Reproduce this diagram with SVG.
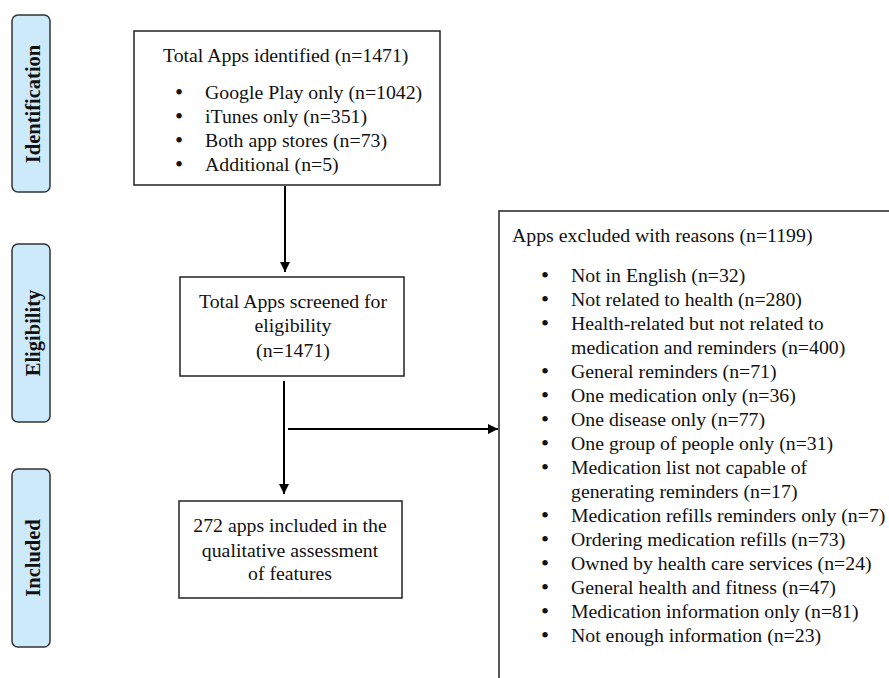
<svg xmlns="http://www.w3.org/2000/svg" width="889" height="678" viewBox="0 0 889 678">
<style>
.t{font-family:"Liberation Serif","Times New Roman",serif;font-size:19.8px;fill:#111}
.b{font-size:23px}
.c{text-anchor:middle}
.side{fill:#cdeafb;stroke:#333;stroke-width:1.5}
.sl{font-family:"Liberation Serif","Times New Roman",serif;font-size:20.5px;font-weight:bold;fill:#111;text-anchor:middle}
.box{fill:#fff;stroke:#222;stroke-width:1.5}
.ln{stroke:#000;stroke-width:2;fill:none}
</style>
<defs>
<marker id="ah" viewBox="0 0 10 10" refX="10" refY="5" markerWidth="10" markerHeight="10" markerUnits="userSpaceOnUse" orient="auto">
<path d="M0,0 L10,5 L0,10 z" fill="#000"/>
</marker>
</defs>
<rect width="889" height="678" fill="#fff"/>
<g id="stage-identification">
<rect class="side" x="12" y="15" width="38" height="177" rx="6"/>
<text class="sl" transform="translate(39.5,104) rotate(-90)">Identification</text>
</g>
<g id="stage-eligibility">
<rect class="side" x="12" y="244" width="38" height="178" rx="6"/>
<text class="sl" transform="translate(39.5,333) rotate(-90)">Eligibility</text>
</g>
<g id="stage-included">
<rect class="side" x="12" y="469" width="38" height="178" rx="6"/>
<text class="sl" transform="translate(39.5,558) rotate(-90)">Included</text>
</g>
<g id="identified">
<rect class="box" x="134" y="31" width="306" height="154"/>
<text class="t" x="163" y="62">Total Apps identified (n=1471)</text>
<g class="t">
<text class="b" x="175" y="100">•</text><text x="205" y="99">Google Play only (n=1042)</text>
<text class="b" x="175" y="124">•</text><text x="205" y="123">iTunes only (n=351)</text>
<text class="b" x="175" y="148">•</text><text x="205" y="147">Both app stores (n=73)</text>
<text class="b" x="175" y="172">•</text><text x="205" y="171">Additional (n=5)</text>
</g>
</g>
<g id="screened">
<rect class="box" x="180" y="277" width="224" height="99"/>
<text class="t c" x="293" y="308">Total Apps screened for</text>
<text class="t c" x="293" y="332">eligibility</text>
<text class="t c" x="293" y="357">(n=1471)</text>
</g>
<g id="included">
<rect class="box" x="179" y="501" width="223" height="97"/>
<text class="t c" x="290" y="532">272 apps included in the</text>
<text class="t c" x="290" y="557">qualitative assessment</text>
<text class="t c" x="290" y="580">of features</text>
</g>
<g id="excluded">
<path class="box" d="M892,211 L499,211 L499,682" />
<text class="t" x="512" y="242">Apps excluded with reasons (n=1199)</text>
<g class="t">
<text class="b" x="541" y="283">•</text><text x="571" y="282">Not in English (n=32)</text>
<text class="b" x="541" y="307">•</text><text x="571" y="306">Not related to health (n=280)</text>
<text class="b" x="541" y="331">•</text><text x="571" y="330">Health-related but not related to</text>
<text x="571" y="354">medication and reminders (n=400)</text>
<text class="b" x="541" y="379">•</text><text x="571" y="378">General reminders (n=71)</text>
<text class="b" x="541" y="403">•</text><text x="571" y="402">One medication only (n=36)</text>
<text class="b" x="541" y="427">•</text><text x="571" y="426">One disease only (n=77)</text>
<text class="b" x="541" y="451">•</text><text x="571" y="450">One group of people only (n=31)</text>
<text class="b" x="541" y="475">•</text><text x="571" y="474">Medication list not capable of</text>
<text x="571" y="498">generating reminders (n=17)</text>
<text class="b" x="541" y="523">•</text><text x="571" y="522">Medication refills reminders only (n=7)</text>
<text class="b" x="541" y="547">•</text><text x="571" y="546">Ordering medication refills (n=73)</text>
<text class="b" x="541" y="571">•</text><text x="571" y="570">Owned by health care services (n=24)</text>
<text class="b" x="541" y="595">•</text><text x="571" y="594">General health and fitness (n=47)</text>
<text class="b" x="541" y="619">•</text><text x="571" y="618">Medication information only (n=81)</text>
<text class="b" x="541" y="643">•</text><text x="571" y="642">Not enough information (n=23)</text>
</g>
</g>
<g id="connectors">
<line class="ln" x1="285" y1="186" x2="285" y2="272" marker-end="url(#ah)"/>
<line class="ln" x1="284" y1="381" x2="284" y2="494" marker-end="url(#ah)"/>
<line class="ln" x1="288" y1="429" x2="498" y2="429" marker-end="url(#ah)"/>
</g>
</svg>
